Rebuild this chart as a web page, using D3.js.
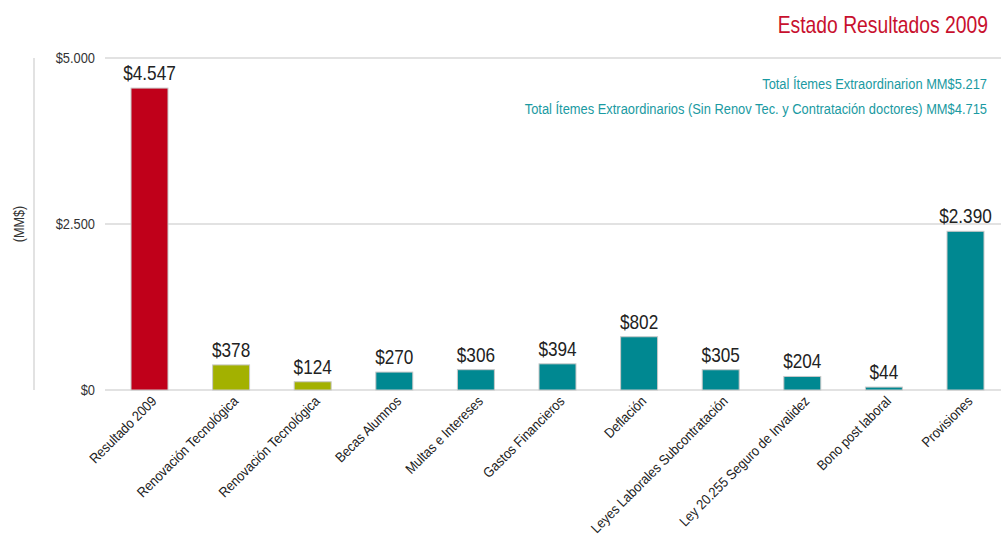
<!DOCTYPE html>
<html><head><meta charset="utf-8">
<script src="https://cdn.jsdelivr.net/npm/d3@7"></script>
<style>body{margin:0;background:#fff;} svg{display:block;}</style>
</head><body>
<svg id="c" width="1001" height="538"></svg>
<script>
const categories = ["Resultado 2009","Renovación Tecnológica","Renovación Tecnológica","Becas Alumnos","Multas e Intereses","Gastos Financieros","Deflación","Leyes Laborales Subcontratación","Ley 20.255 Seguro de Invalidez","Bono post laboral","Provisiones"];
const values = [4547,378,124,270,306,394,802,305,204,44,2390];
const groups = ["result","tech","tech","extra","extra","extra","extra","extra","extra","extra","extra"];
const valueLabels = ["$4.547","$378","$124","$270","$306","$394","$802","$305","$204","$44","$2.390"];
const tickValues = [0,2500,5000];
const tickLabels = ["$0","$2.500","$5.000"];
const title = "Estado Resultados 2009";
const notes = ["Total Ítemes Extraordinarion MM$5.217","Total Ítemes Extraordinarios (Sin Renov Tec. y Contratación doctores) MM$4.715"];
const yTitle = "(MM$)";

const font = "'Liberation Sans',Arial,sans-serif";
const color = d3.scaleOrdinal().domain(["result","tech","extra"]).range(["#C0001A","#A3B100","#008891"]);
const svg = d3.select("#c");
const x = d3.scaleBand().domain(d3.range(categories.length)).range([108.7,1006.3]).paddingInner(0.547).paddingOuter(0.2735);
const y = d3.scaleLinear().domain([0,5000]).range([390,58]);

// gridlines
svg.append("g").selectAll("line").data(tickValues).join("line")
  .attr("x1",105).attr("x2",1001).attr("y1",d=>y(d)).attr("y2",d=>y(d))
  .attr("stroke","#d9d9d9").attr("stroke-width",1.5);
// left vertical line
svg.append("line").attr("x1",34).attr("x2",34).attr("y1",y(5000)).attr("y2",y(0)).attr("stroke","#d9d9d9").attr("stroke-width",1.5);

// tick labels
svg.append("g").selectAll("text").data(tickValues).join("text")
  .attr("transform",d=>`translate(95,${y(d)+5}) scale(0.92,1)`).attr("text-anchor","end")
  .attr("font-family",font).attr("font-size",14).attr("fill","#333")
  .text((d,i)=>tickLabels[i]);

svg.append("text").attr("transform",`translate(24,${y(2500)}) rotate(-90) scale(0.9,1)`).attr("text-anchor","middle")
  .attr("font-family",font).attr("font-size",14).attr("fill","#333").text(yTitle);

// bars
svg.append("g").selectAll("rect").data(values).join("rect")
  .attr("x",(d,i)=>x(i)).attr("width",x.bandwidth())
  .attr("y",d=>y(d)).attr("height",d=>y(0)-y(d))
  .attr("fill",(d,i)=>color(groups[i])).attr("stroke","#c8c8c8").attr("stroke-width",1);

// value labels
svg.append("g").selectAll("text").data(values).join("text")
  .attr("transform",(d,i)=>`translate(${x(i)+x.bandwidth()/2},${y(d)-8}) scale(0.86,1)`).attr("text-anchor","middle")
  .attr("font-family",font).attr("font-size",20).attr("fill","#222")
  .text((d,i)=>valueLabels[i]);

// category labels
svg.append("g").selectAll("text").data(categories).join("text")
  .attr("transform",(d,i)=>`translate(${x(i)+x.bandwidth()/2+8},${y(0)+12}) rotate(-45) scale(0.9,1)`)
  .attr("text-anchor","end").attr("font-family",font).attr("font-size",14).attr("fill","#222")
  .text(d=>d);

// title
svg.append("text").attr("transform","translate(988,33) scale(0.84,1)").attr("text-anchor","end")
  .attr("font-family",font).attr("font-size",23).attr("fill","#C8102E").text(title);
svg.append("g").selectAll("text").data(notes).join("text")
  .attr("transform",(d,i)=>`translate(987,${89+i*25}) scale(0.86,1)`).attr("text-anchor","end")
  .attr("font-family",font).attr("font-size",15).attr("fill","#1A9AA2").text(d=>d);
</script>
</body></html>
